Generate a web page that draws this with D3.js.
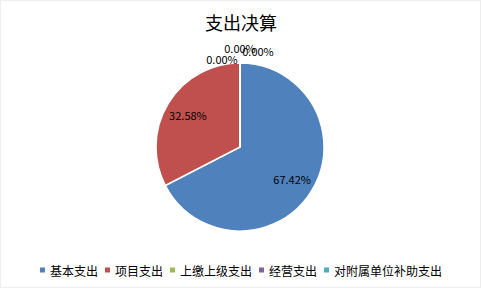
<!DOCTYPE html>
<html lang="zh">
<head>
    <meta charset="UTF-8">
    <title>支出决算</title>
    <script src="https://cdn.jsdelivr.net/npm/d3@7"></script>
    <style>
        html, body {
            margin: 0;
            padding: 0;
            width: 100%;
            height: 100%;
            overflow: hidden;
            background: #fff;
        }
        text {
            font-family: "Noto Sans CJK SC", "Liberation Sans", sans-serif;
        }
    </style>
</head>
<body>
</body>
<script>
    let width = 482;
    let height = 290;

    // 数据
    let categories = ['基本支出', '项目支出', '上缴上级支出', '经营支出', '对附属单位补助支出'];
    let values = [67.42, 32.58, 0, 0, 0];
    let colors = ['#4F81BD', '#C0504D', '#9BBB59', '#8064A2', '#4BACC6'];

    let cx = 240, cy = 147, radius = 84;

    let svg = d3.select('body').append('svg')
        .attr('width', width)
        .attr('height', height);

    // 外框
    svg.append('rect')
        .attr('x', 0.5).attr('y', 0.5)
        .attr('width', width - 2).attr('height', height - 3)
        .attr('fill', '#fff')
        .attr('stroke', '#eeeeee');

    // 标题
    svg.append('text')
        .attr('x', 241).attr('y', 22)
        .attr('text-anchor', 'middle')
        .attr('dominant-baseline', 'central')
        .attr('font-size', 18)
        .attr('fill', '#000')
        .text('支出决算');

    let total = d3.sum(values);
    let pie = d3.pie().sort(null).value(d => d);
    let arcs = pie(values);

    let arc = d3.arc().innerRadius(0).outerRadius(radius);
    let labelArc = d3.arc().innerRadius(61).outerRadius(61);
    let outerArc = d3.arc().innerRadius(radius + 12).outerRadius(radius + 12);

    let g = svg.append('g')
        .attr('transform', `translate(${cx}, ${cy})`);

    g.selectAll('path')
        .data(arcs)
        .enter().append('path')
        .attr('d', arc)
        .attr('fill', (d, i) => colors[i])
        .attr('stroke', '#fff')
        .attr('stroke-width', 1.5);

    // 零值标签在饼图顶部错开
    let zeroShift = [[-18, 8], [0, -3], [18, 0]];
    let zi = 0;

    g.selectAll('text.lbl')
        .data(arcs)
        .enter().append('text')
        .classed('lbl', true)
        .attr('transform', d => {
            let p;
            if (d.data === 0) {
                p = outerArc.centroid(d);
                let s = zeroShift[zi++];
                p = [p[0] + s[0], p[1] + s[1]];
            } else {
                p = labelArc.centroid(d);
            }
            return `translate(${p[0]}, ${p[1]})`;
        })
        .attr('text-anchor', 'middle')
        .attr('dominant-baseline', 'central')
        .attr('font-family', '"Liberation Sans", Arial, sans-serif')
        .attr('font-size', 11)
        .attr('fill', '#000')
        .text(d => (d.data / total * 100).toFixed(2) + '%');

    // 图例
    let legend = svg.append('g');
    let lx = 0;
    categories.forEach((c, i) => {
        let item = legend.append('g').attr('transform', `translate(${lx}, 0)`);
        item.append('rect')
            .attr('x', 0).attr('y', -2.5)
            .attr('width', 5).attr('height', 5)
            .attr('fill', colors[i]);
        let t = item.append('text')
            .attr('x', 10).attr('y', 0)
            .attr('dominant-baseline', 'central')
            .attr('font-size', 12)
            .attr('fill', '#000')
            .text(c);
        lx += 10 + t.node().getComputedTextLength() + 7;
    });
    let legendW = lx - 7;
    legend.attr('transform', `translate(${241 - legendW / 2}, 270)`);
</script>
</html>
